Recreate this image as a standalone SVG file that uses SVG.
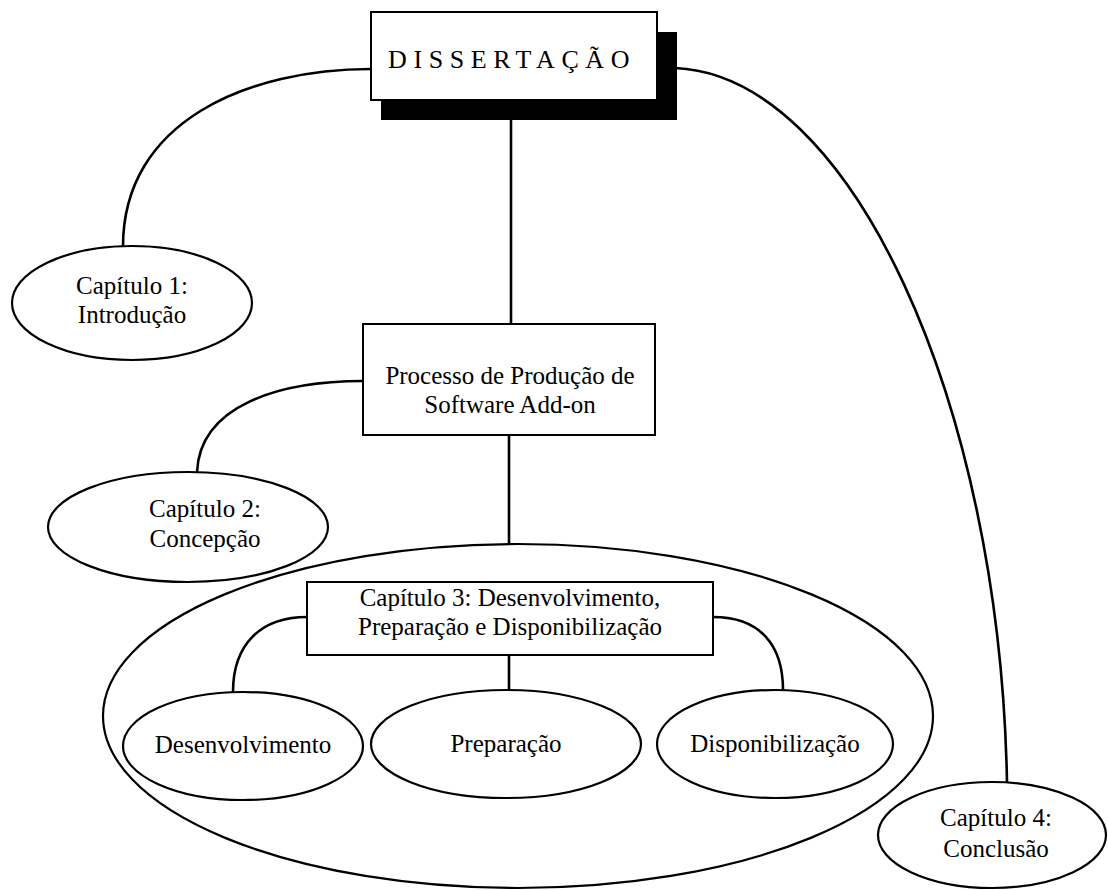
<svg xmlns="http://www.w3.org/2000/svg" width="1108" height="890" viewBox="0 0 1108 890">
  <style>
    .box { fill: #ffffff; stroke: #000000; stroke-width: 2; }
    .oval { fill: #ffffff; stroke: #000000; stroke-width: 2.2; }
    .frame { fill: none; stroke: #000000; stroke-width: 2.2; }
    .link { fill: none; stroke: #000000; stroke-width: 2.6; }
    .shadow { fill: #000000; }
    text { font-family: "Liberation Serif", "Times New Roman", serif; font-size: 25px; fill: #000000; }
    .c { text-anchor: middle; }
    .title { font-size: 26px; letter-spacing: 6.6px; }
  </style>

  <!-- enclosing oval of chapter 3 -->
  <g id="cap3-area">
    <ellipse class="frame" cx="518" cy="716" rx="415" ry="172"/>
  </g>

  <!-- connectors -->
  <g id="connectors">
    <path class="link" d="M511,120 L511,324"/>
    <path class="link" d="M371,69 C250,69 122,120 123,248"/>
    <path class="link" d="M675,68 C850,75 1000,400 1007,782"/>
    <path class="link" d="M363,381 C280,381 200,405 197,472"/>
    <path class="link" d="M509,435 L509,544"/>
    <path class="link" d="M307,617 C260,617 233,645 233,692"/>
    <path class="link" d="M509,655 L509,690"/>
    <path class="link" d="M713,617 C760,617 783,645 783,690"/>
  </g>

  <g id="dissertacao">
    <rect class="shadow" x="381" y="32" width="296" height="88"/>
    <rect class="box" x="371" y="12" width="286" height="88"/>
    <text class="title" x="388" y="68">DISSERTAÇÃO</text>
  </g>

  <g id="cap1">
    <ellipse class="oval" cx="132" cy="303" rx="120" ry="57"/>
    <text class="c" x="132" y="294">Capítulo 1:</text>
    <text class="c" x="132" y="323">Introdução</text>
  </g>

  <g id="processo">
    <rect class="box" x="363" y="324" width="292" height="111"/>
    <text class="c" x="510" y="384">Processo de Produção de</text>
    <text class="c" x="510" y="413">Software Add-on</text>
  </g>

  <g id="cap2">
    <ellipse class="oval" cx="188" cy="527" rx="140" ry="55"/>
    <text class="c" x="205" y="517">Capítulo 2:</text>
    <text class="c" x="205" y="547">Concepção</text>
  </g>

  <g id="cap3">
    <rect class="box" x="307" y="582" width="406" height="73"/>
    <text class="c" x="510" y="606">Capítulo 3: Desenvolvimento,</text>
    <text class="c" x="510" y="635">Preparação e Disponibilização</text>
  </g>

  <g id="desenvolvimento">
    <ellipse class="oval" cx="243" cy="746" rx="120" ry="54"/>
    <text class="c" x="243" y="753">Desenvolvimento</text>
  </g>

  <g id="preparacao">
    <ellipse class="oval" cx="506" cy="744" rx="135" ry="54"/>
    <text class="c" x="506" y="752">Preparação</text>
  </g>

  <g id="disponibilizacao">
    <ellipse class="oval" cx="775" cy="744" rx="118" ry="54"/>
    <text class="c" x="775" y="752">Disponibilização</text>
  </g>

  <g id="cap4">
    <ellipse class="oval" cx="992" cy="835" rx="114" ry="53"/>
    <text class="c" x="996" y="826">Capítulo 4:</text>
    <text class="c" x="996" y="857">Conclusão</text>
  </g>
</svg>
